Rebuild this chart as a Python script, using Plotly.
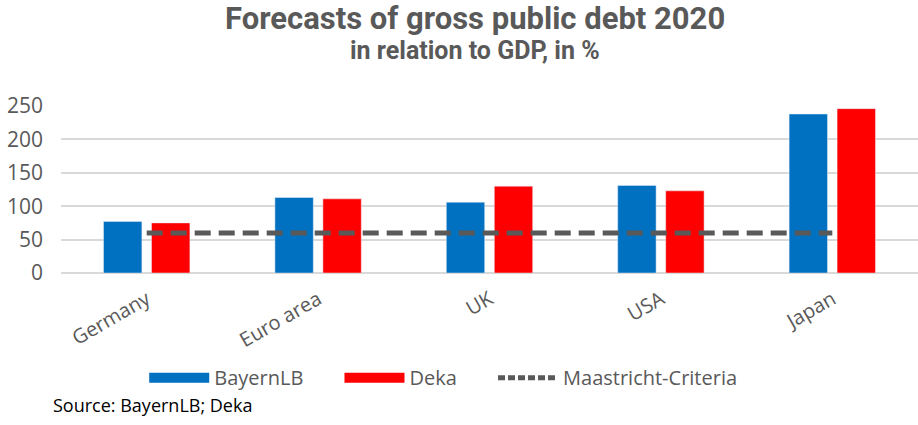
import plotly.graph_objects as go

categories = ["Germany", "Euro area", "UK", "USA", "Japan"]
bayernlb = [77, 113, 106, 131, 238]
deka = [75, 111, 130, 123, 246]
maastricht = [60, 60, 60, 60, 60]
y_ticks = [0, 50, 100, 150, 200, 250]

BLUE = "#0070C0"
RED = "#FF0000"
GREY = "#595959"
FONT = "Open Sans"
PAD = "\u00a0" * 6

fig = go.Figure()
fig.add_trace(go.Bar(x=categories, y=bayernlb, name="BayernLB", marker_color=BLUE,
                     showlegend=False))
fig.add_trace(go.Bar(x=categories, y=deka, name="Deka", marker_color=RED,
                     showlegend=False))
fig.add_trace(go.Scatter(x=categories, y=maastricht, mode="lines", name="Maastricht-Criteria",
                         line=dict(color=GREY, width=5, dash="16px,8px"), showlegend=False))
# legend entries
fig.add_trace(go.Scatter(x=[None], y=[None], mode="lines", name="BayernLB" + PAD,
                         line=dict(color=BLUE, width=16)))
fig.add_trace(go.Scatter(x=[None], y=[None], mode="lines", name="Deka" + PAD,
                         line=dict(color=RED, width=16)))
fig.add_trace(go.Scatter(x=[None], y=[None], mode="lines", name="Maastricht-Criteria",
                         line=dict(color=GREY, width=5, dash="7px,3px")))

fig.update_layout(
    width=918, height=425,
    margin=dict(l=61, r=0, t=106, b=152),
    paper_bgcolor="white", plot_bgcolor="white",
    barmode="group", bargap=0.44, bargroupgap=0.2,
    font=dict(family=FONT, color=GREY),
    showlegend=True,
    legend=dict(orientation="h", x=0.446, xanchor="center", y=-0.51, yanchor="top",
                font=dict(size=20, color=GREY), itemwidth=60, traceorder="normal"),
    xaxis=dict(showgrid=False, tickangle=-30, tickfont=dict(size=20, color=GREY),
               showline=False, ticks="", ticklabelstandoff=10),
    yaxis=dict(range=[0, 250], tickvals=y_ticks, showgrid=True, gridcolor="#d9d9d9",
               gridwidth=1.5, zeroline=True, zerolinecolor="#d9d9d9", zerolinewidth=1.5,
               tickfont=dict(size=21, color=GREY), ticklabelstandoff=17),
)

fig.add_annotation(text="<b>Forecasts of gross public debt 2020</b>", xref="paper", yref="paper",
                   x=0.483, y=1, yshift=88, xanchor="center", yanchor="middle",
                   showarrow=False, font=dict(family="Liberation Sans Narrow, Roboto", size=31, color=GREY))
fig.add_annotation(text="<b>in relation to GDP, in %</b>", xref="paper", yref="paper",
                   x=0.483, y=1, yshift=56, xanchor="center", yanchor="middle",
                   showarrow=False, font=dict(family="Liberation Sans Narrow, Roboto", size=25, color=GREY))
fig.add_annotation(text="Source: BayernLB; Deka", xref="paper", yref="paper",
                   x=0, xshift=-10, y=0, yshift=-132, xanchor="left", yanchor="middle",
                   showarrow=False, font=dict(size=18, color="#000000"))

fig.write_html("out.html")
